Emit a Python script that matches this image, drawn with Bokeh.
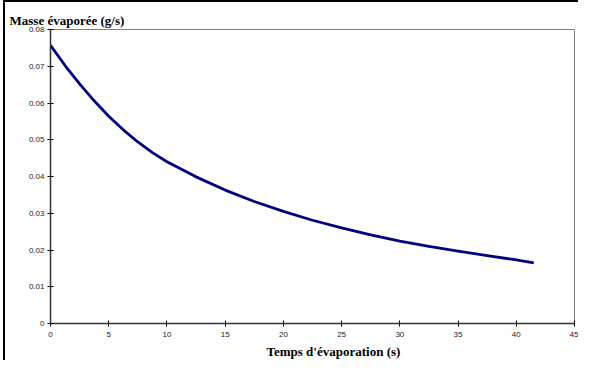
from bokeh.plotting import figure
from bokeh.models import Range1d, FixedTicker, Title
from bokeh.embed import file_html
from bokeh.resources import INLINE

# ---- data ----
temps = [0, 1.25, 2.5, 3.75, 5, 6.25, 7.5, 8.75, 10, 12.5, 15, 17.5, 20, 22.5, 25,
         27.5, 30, 32.5, 35, 37.5, 40, 41.5]
masse = [0.0757, 0.0702, 0.0652, 0.0606, 0.0564, 0.0527, 0.0494, 0.0465, 0.0440, 0.0399,
         0.0363, 0.0332, 0.0305, 0.0281, 0.0260, 0.0241, 0.0224, 0.0210, 0.0197, 0.0185,
         0.0173, 0.0165]

x_ticks = [0, 5, 10, 15, 20, 25, 30, 35, 40, 45]
y_ticks = [0, 0.01, 0.02, 0.03, 0.04, 0.05, 0.06, 0.07, 0.08]
y_tick_labels = ["0", "0.01", "0.02", "0.03", "0.04", "0.05", "0.06", "0.07", "0.08"]
x_title = "Temps d'évaporation (s)"
y_title = "Masse évaporée (g/s)"

p = figure(width=575, height=360, output_backend="svg", toolbar_location=None,
           x_range=Range1d(0, 45), y_range=Range1d(0, 0.08),
           min_border_left=45, min_border_right=6, min_border_top=27, min_border_bottom=39)
# outer chart frame (left/top edges visible in the reference)
p.styles = {"border-left": "2px solid black", "border-top": "2px solid black", "margin-left": "3px"}

p.grid.visible = False
p.background_fill_color = "white"
p.border_fill_color = "white"
p.outline_line_color = "#808080"
p.outline_line_width = 1

p.line(temps, masse, line_color="#000080", line_width=2.8, line_join="round")

for ax in (p.xaxis[0], p.yaxis[0]):
    ax.axis_line_color = "#333333"
    ax.axis_line_width = 1.5
    ax.major_tick_in = 3
    ax.major_tick_out = 3
    ax.major_tick_line_color = "black"
    ax.minor_tick_line_color = None
    ax.major_label_text_font = "Liberation Sans"
    ax.major_label_text_font_size = "8px"
    ax.major_label_text_color = "#222222"

p.xaxis[0].ticker = FixedTicker(ticks=x_ticks)
p.xaxis[0].major_label_standoff = 5
p.yaxis[0].ticker = FixedTicker(ticks=y_ticks)
p.yaxis[0].major_label_overrides = {t: l for t, l in zip(y_ticks, y_tick_labels)}
p.yaxis[0].major_label_standoff = 3

p.add_layout(Title(text=x_title, align="left", offset=216, standoff=5,
                   text_font="Liberation Serif", text_font_style="bold",
                   text_font_size="13px", text_color="black"), "below")
p.add_layout(Title(text=y_title, align="left", offset=-41, standoff=3,
                   text_font="Liberation Serif", text_font_style="bold",
                   text_font_size="13px", text_color="black"), "above")

open("out.html", "w").write(file_html(p, INLINE))
